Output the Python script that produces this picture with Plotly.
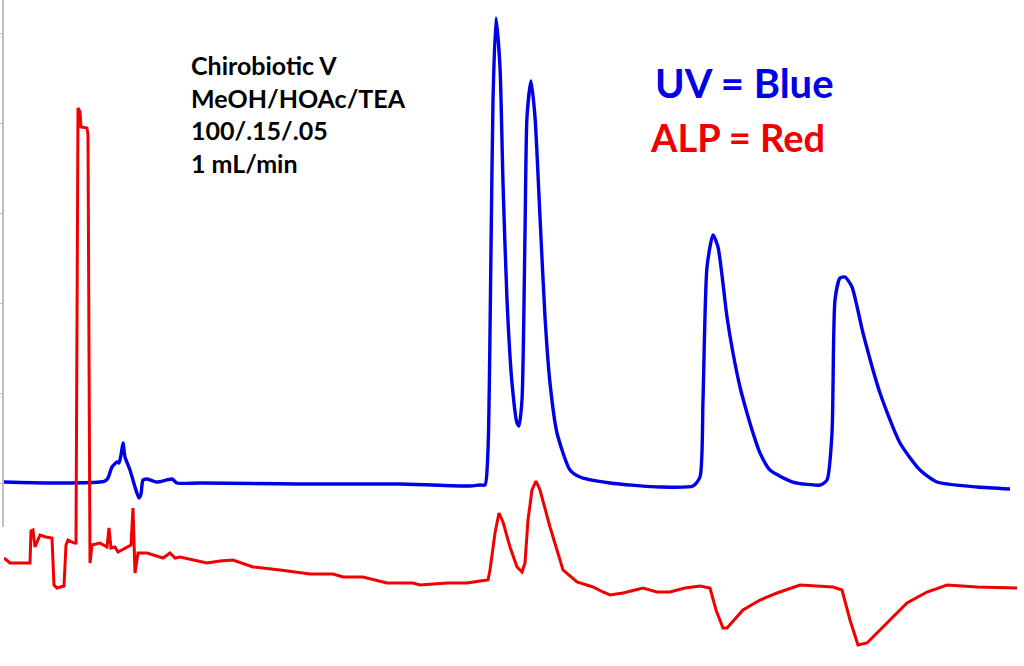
import plotly.graph_objects as go

# retention time (min) and UV response
uv_time = [0.08, 1.00, 2.00, 2.10, 2.16, 2.24, 2.34, 2.38, 2.42, 2.46, 2.50, 2.60,
           2.70, 2.78, 2.82, 2.86, 2.94, 3.14, 3.44, 3.54, 4.00, 6.00, 8.00, 9.40,
           9.60, 9.70, 9.76, 9.82, 9.86, 9.92, 10.00, 10.06, 10.14, 10.24, 10.34,
           10.38, 10.44, 10.50, 10.54, 10.62, 10.70, 10.80, 10.90, 11.00, 11.14,
           11.40, 11.60, 12.20, 13.20, 13.86, 14.00, 14.06, 14.14, 14.26, 14.36,
           14.54, 14.66, 14.80, 14.94, 15.06, 15.20, 15.40, 15.86, 16.40, 16.54,
           16.64, 16.70, 16.80, 16.90, 17.04, 17.26, 17.60, 18.00, 18.40, 18.74,
           19.54, 20.20]
uv_signal = [1, 0, 1, 2, 5, 16, 21, 20, 28, 40, 26, 13,
             -4, -15, -11, 3, 4, 1, 4, 0, 0, -1, -1, -3,
             -2, -2, 33, 233, 383, 465, 416, 300, 183, 100, 60,
             57, 83, 250, 366, 402, 366, 266, 166, 100, 50,
             13, 6, 0, -4, -3, 6, 83, 216, 248, 236,
             166, 130, 96, 70, 50, 30, 13, 1, -2, 3,
             50, 183, 205, 206, 196, 150, 90, 40, 13, 1,
             -4, -6]

# ALP detector response on the same time scale
alp_time = [0.08, 0.20, 0.60, 0.62, 0.66, 0.70, 0.80, 0.92, 1.04, 1.08, 1.14, 1.28,
            1.32, 1.36, 1.48, 1.52, 1.56, 1.60, 1.62, 1.74, 1.76, 1.80, 1.84, 2.00,
            2.14, 2.18, 2.22, 2.30, 2.36, 2.50, 2.62, 2.66, 2.70, 2.76, 2.94, 3.26,
            3.40, 3.50, 3.60, 4.14, 4.40, 4.66, 5.06, 5.60, 6.20, 6.66, 6.86, 7.26,
            7.74, 8.26, 8.40, 8.94, 9.34, 9.60, 9.76, 9.80, 9.90, 9.98, 10.06, 10.20,
            10.34, 10.44, 10.50, 10.56, 10.64, 10.72, 10.80, 11.00, 11.14, 11.26,
            11.54, 11.86, 12.06, 12.20, 12.46, 12.74, 12.86, 13.14, 13.40, 13.70,
            14.00, 14.20, 14.32, 14.46, 14.54, 14.86, 15.20, 15.54, 16.00, 16.66,
            16.84, 17.00, 17.16, 17.34, 17.74, 18.14, 18.54, 18.94, 19.54, 20.34]
alp_signal = [42, 37, 37, 69, 70, 53, 65, 63, 62, 15, 12, 14,
              55, 60, 57, 57, 492, 488, 473, 472, 465, 37, 55, 57,
              53, 72, 52, 53, 48, 52, 55, 92, 27, 47, 47, 42,
              47, 42, 43, 37, 39, 40, 33, 30, 26, 26, 23, 23,
              17, 17, 15, 17, 17, 19, 20, 30, 67, 87, 78, 53,
              33, 28, 37, 80, 110, 119, 110, 73, 50, 30,
              18, 13, 8, 5, 7, 10, 12, 8, 8, 12,
              14, 12, -10, -28, -28, -10, 0, 7, 15, 13,
              10, -20, -45, -43, -23, -3, 8, 15, 13, 12]

uv_ticks = [0, 90, 180, 270, 360, 450]

conditions = ["Chirobi\u200cotic V", "MeOH/HOAc/TEA", "100/.15/.05", "1 mL/min"]

BLUE = "#0000E6"
RED = "#F00000"

fig = go.Figure()

fig.add_trace(go.Scatter(
    x=uv_time, y=uv_signal, mode="lines", name="UV",
    line=dict(color=BLUE, width=3.4, shape="spline", smoothing=0.6),
    xaxis="x", yaxis="y",
))
fig.add_trace(go.Scatter(
    x=alp_time, y=alp_signal, mode="lines", name="ALP",
    line=dict(color=RED, width=3),
    xaxis="x", yaxis="y2",
))

fig.update_layout(
    width=1024, height=666,
    margin=dict(l=4, r=0, t=0, b=0, autoexpand=False),
    paper_bgcolor="white", plot_bgcolor="rgba(0,0,0,0)",
    showlegend=False,
    xaxis=dict(range=[0.08, 20.48], visible=False, automargin=False),
    yaxis=dict(
        domain=[0.2087, 1], range=[-44, 483], automargin=False,
        tickvals=uv_ticks, showticklabels=False,
        ticks="outside", ticklen=5, tickcolor="#BFBFBF", tickwidth=1,
        showline=True, linecolor="#BFBFBF", linewidth=1.5,
        showgrid=False, zeroline=False,
    ),
    yaxis2=dict(
        domain=[0, 1], range=[-66, 600], anchor="x",
        visible=False, automargin=False,
    ),
)

fig.add_annotation(
    xref="paper", yref="paper", x=0.1813, y=0.9275,
    xanchor="left", yanchor="top", align="left", showarrow=False,
    text="<br>".join(conditions),
    font=dict(family="Lato", size=25, color="black", weight="bold"),
)
fig.add_annotation(
    xref="paper", yref="paper", x=0.726, y=0.876,
    xanchor="center", yanchor="middle", showarrow=False,
    text="UV = Blue",
    font=dict(family="Lato", size=40, color=BLUE, weight="bold"),
)
fig.add_annotation(
    xref="paper", yref="paper", x=0.719, y=0.794,
    xanchor="center", yanchor="middle", showarrow=False,
    text="ALP = Red",
    font=dict(family="Lato", size=38, color=RED, weight="bold"),
)

# the page body has a default 8px margin; drop it so the chart fills the window
fig.write_html(
    "out.html",
    config={"displayModeBar": False},
    post_script="document.body.style.margin='0';",
)
